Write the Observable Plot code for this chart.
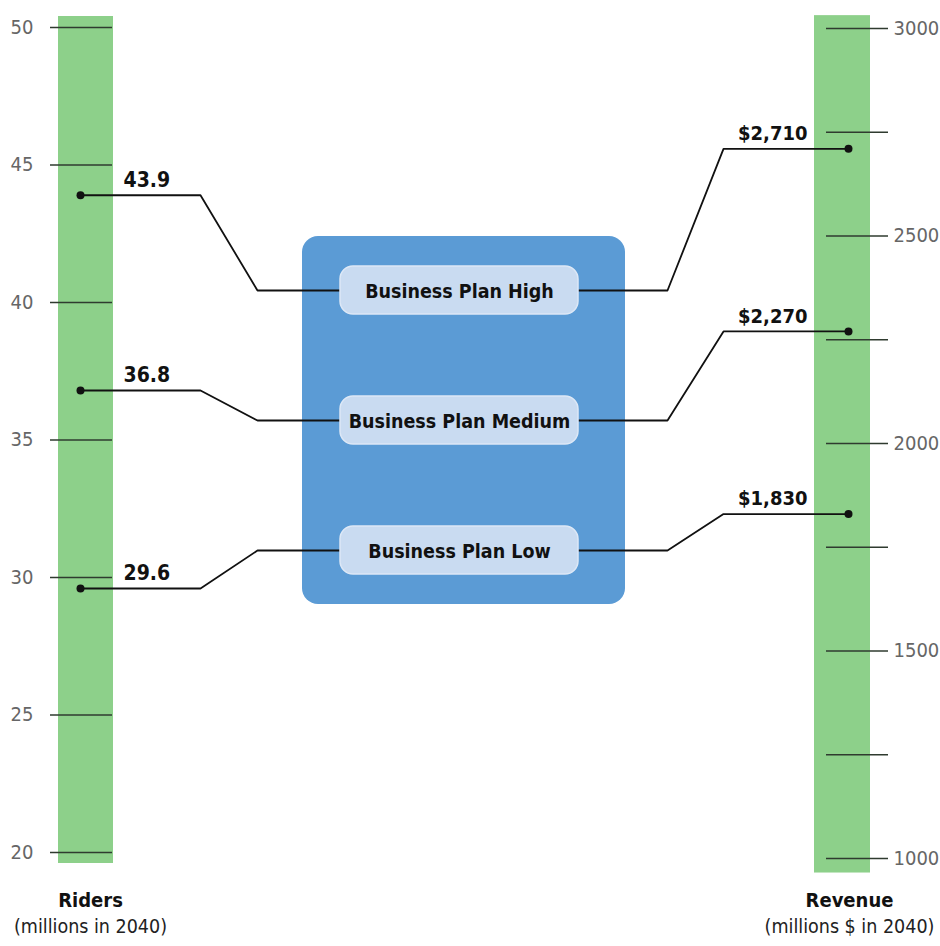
<!DOCTYPE html>
<html><head><meta charset="utf-8">
<script src="https://cdn.jsdelivr.net/npm/d3@7"></script>
<script src="https://cdn.jsdelivr.net/npm/@observablehq/plot@0.6"></script>
<style>
body{margin:0;background:#fff}
#chart svg{display:block}
</style></head><body><div id="chart"></div>
<script>
// ---- data ----
const plans = ["Business Plan High", "Business Plan Medium", "Business Plan Low"];
const riders = [43.9, 36.8, 29.6];          // millions in 2040
const revenue = [2710, 2270, 1830];         // millions $ in 2040
const riderTicks = [20, 25, 30, 35, 40, 45, 50];
const revenueTicks = [1000, 1500, 2000, 2500, 3000];
const revenueMinorTicks = [1250, 1750, 2250, 2750];
const riderTitle = ["Riders", "(millions in 2040)"];
const revenueTitle = ["Revenue", "(millions $ in 2040)"];

// ---- layout (positions/styles, not data) ----
const W = 940, H = 946;
const FONT = "'Liberation Sans Narrow','DejaVu Sans Condensed','Arial Narrow',sans-serif";
const left = {barX1: 58, barX2: 113, barExt: [19.6, 50.4], tickX1: 50, tickX2: 112, labelX: 33, dotX: 80, elbowX: 200, bendX: 257, valueX: 123, titleX: 90};
const right = {barX1: 814, barX2: 870, barExt: [965, 3031], tickX1: 826, tickX2: 888, labelX: 893, dotX: 848, elbowX: 723, bendX: 667, valueX: 807, titleX: 849};
const box = {x1: 302, x2: 625, y1: 236, y2: 604};
const pill = {x1: 340, x2: 578, half: 24, cx: 459};
const green = "#8dd08a", blue = "#5b9bd5", pillFill = "#c9dbf1";

// ---- scales (Plot) ----
const yR = Plot.scale({y: {domain: [20, 50], range: [852, 27]}});
const yV = Plot.scale({y: {domain: [1000, 3000], range: [858, 28]}});
const yP = Plot.scale({y: {type: "point", domain: plans, range: [290, 550], padding: 0}});

const rows = plans.map((p, i) => ({plan: p, riders: riders[i], revenue: revenue[i]}));

// leader polylines
const leaders = [];
rows.forEach(d => {
  const py = yP.apply(d.plan), ry = yR.apply(d.riders), vy = yV.apply(d.revenue);
  [[left.dotX, ry], [left.elbowX, ry], [left.bendX, py], [pill.x1, py]]
    .forEach(([x, y]) => leaders.push({k: d.plan + "L", x, y}));
  [[right.dotX, vy], [right.elbowX, vy], [right.bendX, py], [pill.x2, py]]
    .forEach(([x, y]) => leaders.push({k: d.plan + "R", x, y}));
});

const chart = Plot.plot({
  width: W, height: H,
  margin: 0,
  x: {type: "identity", axis: null},
  y: {type: "identity", axis: null},
  style: {fontFamily: FONT, background: "#fff"},
  marks: [
    // green columns
    Plot.rect([left], {x1: d => d.barX1, x2: d => d.barX2, y1: d => yR.apply(d.barExt[1]), y2: d => yR.apply(d.barExt[0]), fill: green}),
    Plot.rect([right], {x1: d => d.barX1, x2: d => d.barX2, y1: d => yV.apply(d.barExt[1]), y2: d => yV.apply(d.barExt[0]), fill: green}),
    // left axis
    Plot.ruleY(riderTicks, {y: d => yR.apply(d), x1: left.tickX1, x2: left.tickX2, stroke: "#2f3b2f", strokeWidth: 1.3}),
    Plot.text(riderTicks, {y: d => yR.apply(d), x: left.labelX, text: d => String(d), textAnchor: "end", fontSize: 20, fill: "#666"}),
    // right axis
    Plot.ruleY(revenueTicks.concat(revenueMinorTicks), {y: d => yV.apply(d), x1: right.tickX1, x2: right.tickX2, stroke: "#2f3b2f", strokeWidth: 1.3}),
    Plot.text(revenueTicks, {y: d => yV.apply(d), x: right.labelX, text: d => String(d), textAnchor: "start", fontSize: 20, fill: "#666"}),
    // center box
    Plot.rect([box], {x1: d => d.x1, x2: d => d.x2, y1: d => d.y1, y2: d => d.y2, fill: blue, rx: 16}),
    // leaders
    Plot.line(leaders, {x: "x", y: "y", z: "k", stroke: "#111", strokeWidth: 1.8, curve: "linear"}),
    // pills
    Plot.rect(rows, {x1: pill.x1, x2: pill.x2, y1: d => yP.apply(d.plan) - pill.half, y2: d => yP.apply(d.plan) + pill.half, fill: pillFill, stroke: "#dde8f6", strokeWidth: 1.5, rx: 13}),
    Plot.text(rows, {x: pill.cx, y: d => yP.apply(d.plan) + 1, text: "plan", fontSize: 19.5, fontWeight: "bold", fill: "#111"}),
    // dots
    Plot.dot(rows, {x: left.dotX, y: d => yR.apply(d.riders), r: 4, fill: "#111"}),
    Plot.dot(rows, {x: right.dotX, y: d => yV.apply(d.revenue), r: 4, fill: "#111"}),
    // value labels
    Plot.text(rows, {x: left.valueX, y: d => yR.apply(d.riders), dy: -15, text: d => d3.format(".1f")(d.riders), textAnchor: "start", fontSize: 21, fontWeight: "bold", fill: "#111"}),
    Plot.text(rows, {x: right.valueX, y: d => yV.apply(d.revenue), dy: -15, text: d => "$" + d3.format(",")(d.revenue), textAnchor: "end", fontSize: 20, fontWeight: "bold", fill: "#111"}),
    // titles
    Plot.text([riderTitle[0]], {x: left.titleX, y: 900, text: d => d, fontSize: 20, fontWeight: "bold", fill: "#111"}),
    Plot.text([riderTitle[1]], {x: left.titleX, y: 926, text: d => d, fontSize: 19.5, fill: "#222"}),
    Plot.text([revenueTitle[0]], {x: right.titleX, y: 900, text: d => d, fontSize: 20, fontWeight: "bold", fill: "#111"}),
    Plot.text([revenueTitle[1]], {x: right.titleX, y: 926, text: d => d, fontSize: 19.5, fill: "#222"})
  ]
});
document.getElementById("chart").appendChild(chart);
</script>
</body></html>
